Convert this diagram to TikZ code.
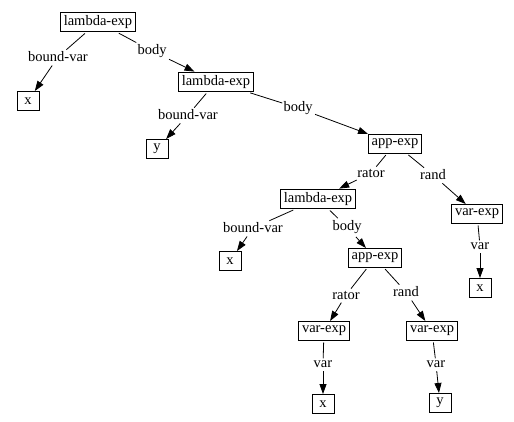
\documentclass[tikz,border=0pt]{standalone}
\usepackage{fontspec}
\setmainfont{Liberation Serif}
\usetikzlibrary{arrows.meta}

\begin{document}
\begin{tikzpicture}[x=1pt, y=-1pt,
				font=\fontsize{14.5}{17}\selectfont,
				block/.style={rectangle, draw=black, line width=1pt, inner xsep=3.5pt, minimum height=19pt, minimum width=22pt},
				edgelabel/.style={rectangle, inner xsep=1pt, inner ysep=2pt}
			]
			\useasboundingbox (0,0) rectangle (514,421);
			% tree nodes
			\node[block] (lam1) at (98,22) {lambda-exp};
			\node[block] (x1) at (28,101) {x};
			\node[block] (lam2) at (216,82) {lambda-exp};
			\node[block] (y1) at (157,149) {y};
			\node[block] (app1) at (395,144) {app-exp};
			\node[block] (lam3) at (318,199) {lambda-exp};
			\node[block] (var1) at (477,214) {var-exp};
			\node[block] (x2) at (230,261) {x};
			\node[block] (app2) at (375,258) {app-exp};
			\node[block] (x3) at (480,288) {x};
			\node[block] (var2) at (324,331) {var-exp};
			\node[block] (var3) at (432,331) {var-exp};
			\node[block] (x4) at (323,404) {x};
			\node[block] (y2) at (440,403) {y};
			% edge labels
			\node[edgelabel] (bv1) at (58,57) {bound-var};
			\node[edgelabel] (bd1) at (152,51) {body};
			\node[edgelabel] (bv2) at (188,115) {bound-var};
			\node[edgelabel] (bd2) at (298,108) {body};
			\node[edgelabel] (rt1) at (371,173) {rator};
			\node[edgelabel] (rd1) at (433,175) {rand};
			\node[edgelabel] (bv3) at (253,228) {bound-var};
			\node[edgelabel] (bd3) at (347,227) {body};
			\node[edgelabel] (vr1) at (480,246) {var};
			\node[edgelabel] (rt2) at (346,295) {rator};
			\node[edgelabel] (rd2) at (406,292) {rand};
			\node[edgelabel] (vr2) at (323,364) {var};
			\node[edgelabel] (vr3) at (436,364) {var};
			\begin{scope}[line width=0.8pt, >={Triangle[length=10pt, width=7pt]}, shorten <=1.5pt]
			\draw (lam1) -- (bv1);
			\draw[->] (bv1) -- (x1);
			\draw (lam1) -- (bd1);
			\draw[->] (bd1) -- (lam2);
			\draw (lam2) -- (bv2);
			\draw[->] (bv2) -- (y1);
			\draw (lam2) -- (bd2);
			\draw[->] (bd2) -- (app1);
			\draw (app1) -- (rt1);
			\draw[->] (rt1) -- (lam3);
			\draw (app1) -- (rd1);
			\draw[->] (rd1) -- (var1);
			\draw (lam3) -- (bv3);
			\draw[->] (bv3) -- (x2);
			\draw (lam3) -- (bd3);
			\draw[->] (bd3) -- (app2);
			\draw (var1) -- (vr1);
			\draw[->] (vr1) -- (x3);
			\draw (app2) -- (rt2);
			\draw[->] (rt2) -- (var2);
			\draw (app2) -- (rd2);
			\draw[->] (rd2) -- (var3);
			\draw (var2) -- (vr2);
			\draw[->] (vr2) -- (x4);
			\draw (var3) -- (vr3);
			\draw[->] (vr3) -- (y2);
			\end{scope}
\end{tikzpicture}
\end{document}
